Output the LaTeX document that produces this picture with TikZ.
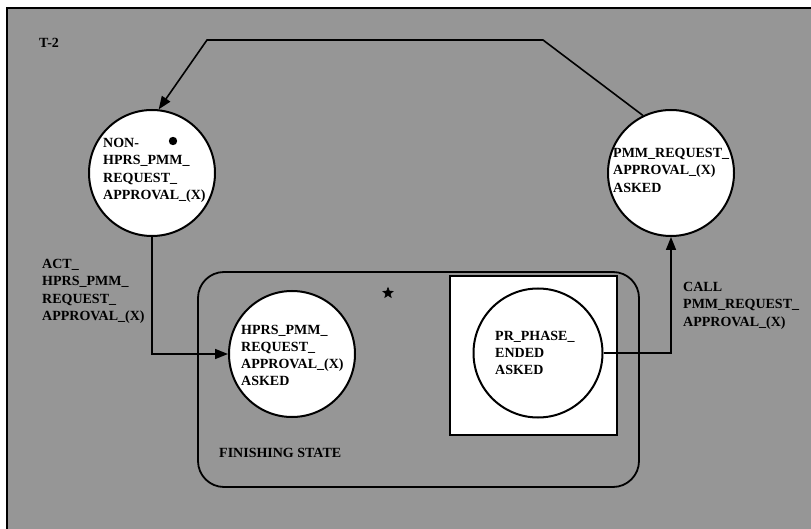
\documentclass[tikz,border=0pt]{standalone}
\usepackage{fontspec}
\setmainfont{Liberation Serif}
\usetikzlibrary{arrows.meta,shapes.geometric}
\definecolor{bggray}{RGB}{150,150,150}
\begin{document}
\begin{tikzpicture}[x=1pt,y=-1pt,
  statecircle/.style={circle,draw=black,line width=2pt,fill=white,minimum size=126pt,inner sep=0pt},
  txt/.style={anchor=north west,inner sep=0pt,align=left,font=\bfseries\fontsize{14}{17.5}\selectfont},
  conn/.style={draw=black,line width=1.6pt,-{Triangle[length=13pt,width=10pt]}},
  line/.style={draw=black,line width=1.6pt}]
\useasboundingbox (0,0) rectangle (811,529);
\fill[white] (0,0) rectangle (811,529);
\fill[bggray] (7,8) rectangle (811,529);
\draw[line width=2pt] (7,529) -- (7,8) -- (811,8);
\node[txt] (t2) at (39,38) {T-2};
% finishing state
\draw[line width=1.8pt,rounded corners=26pt] (198,272) rectangle (639,487);
\node[txt] (fin) at (219,448) {FINISHING STATE};
\node[star,star points=5,star point ratio=2.3,fill=black,draw=black,line width=0.5pt,minimum size=11pt,inner sep=0pt] (star) at (388,293) {};
\node[draw=black,line width=2.4pt,fill=white,minimum width=167pt,minimum height=159pt,inner sep=0pt] (box) at (533.5,355.5) {};
% states
\node[statecircle] (non) at (152,173) {};
\node[statecircle] (pmm) at (671,173) {};
\node[statecircle] (hprs) at (292,354) {};
\node[statecircle,minimum size=129pt] (pr) at (538,353) {};
\fill[black] (173,141) circle (4.2pt);
\node[txt] (nontxt) at (103,138) {NON-\\HPRS\_PMM\_\\REQUEST\_\\APPROVAL\_(X)};
\node[txt] (pmmtxt) at (613,148) {PMM\_REQUEST\_\\APPROVAL\_(X)\\ASKED};
\node[txt,font=\bfseries\fontsize{14}{17}\selectfont] (hprstxt) at (241,325) {HPRS\_PMM\_\\REQUEST\_\\APPROVAL\_(X)\\ASKED};
\node[txt,font=\bfseries\fontsize{14}{17}\selectfont] (prtxt) at (495,331) {PR\_PHASE\_\\ENDED\\ASKED};
\node[txt] (acttxt) at (42,259) {ACT\_\\HPRS\_PMM\_\\REQUEST\_\\APPROVAL\_(X)};
\node[txt] (calltxt) at (683,282) {CALL\\PMM\_REQUEST\_\\APPROVAL\_(X)};
% connectors
\coordinate (tr) at (543,40);
\coordinate (tl) at (207,40);
\draw[conn] (pmm.116) -- (tr) -- (tl) -- (non.84);
\draw[conn] (non.south) |- (hprs.west);
\draw[conn] (pr.east) -| (pmm.south);
\end{tikzpicture}
\end{document}
